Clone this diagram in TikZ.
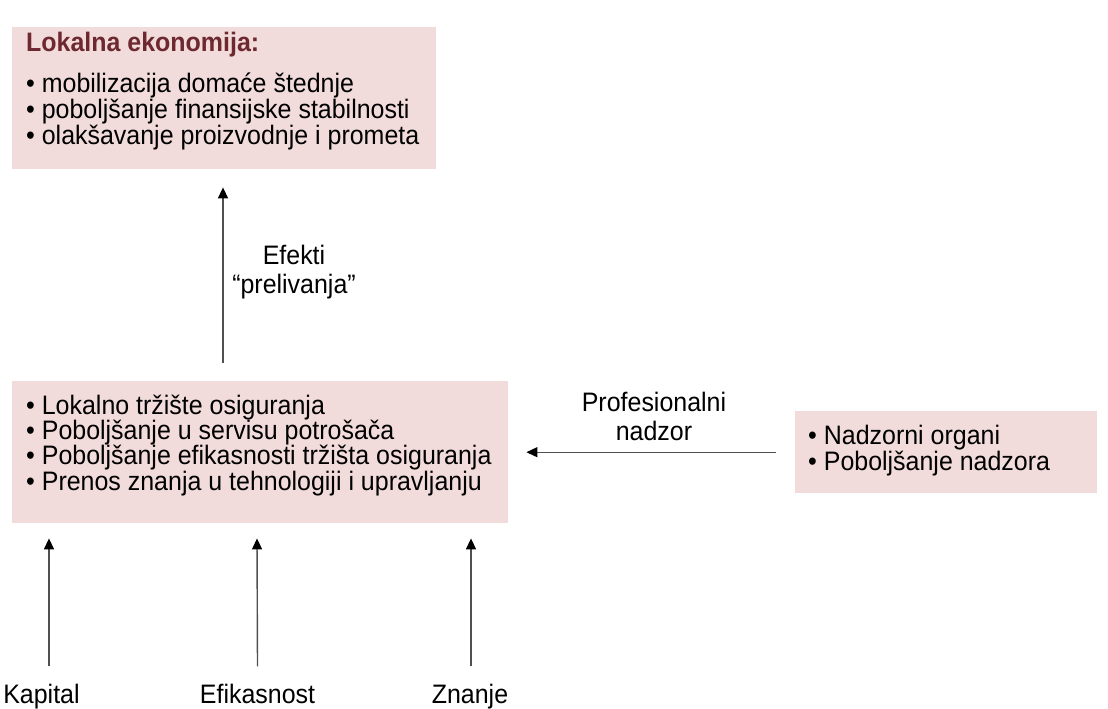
\documentclass[tikz,border=0pt]{standalone}
\usepackage{fontspec}
\setmainfont[FakeStretch=0.935]{Liberation Sans}
\usetikzlibrary{arrows.meta}
\definecolor{boxfill}{HTML}{F2DCDB}
\definecolor{titlered}{HTML}{6E2830}
\definecolor{linegray}{HTML}{505050}
\begin{document}
\begin{tikzpicture}[x=1pt,y=-1pt,
  box/.style={fill=boxfill, draw=none, anchor=north west, inner sep=0pt},
  txt/.style={anchor=base west, inner sep=0pt, align=left},
  lbl/.style={anchor=base, inner sep=0pt, align=center, font=\fontsize{26.7}{28.5}\selectfont},
  conn/.style={draw=linegray, line width=1.4pt, -{Triangle[width=10pt,length=11pt,color=black]}}]
\useasboundingbox[fill=white] (0,0) rectangle (1108,709);
% boxes
\node[box, minimum width=424pt, minimum height=142pt] (eco) at (12,27) {};
\node[box, minimum width=496pt, minimum height=142pt] (market) at (12,381) {};
\node[box, minimum width=302pt, minimum height=82pt] (super) at (795,411) {};
% box texts (base anchor of a multi-line node = last line's baseline)
\node[txt, font=\bfseries\fontsize{26.7}{26}\selectfont, text=titlered] (ecotitle) at (26,52) {Lokalna ekonomija:};
\node[txt, font=\fontsize{26.7}{26}\selectfont] (ecolist) at (26,144)
  {• mobilizacija domaće štednje\\ • poboljšanje finansijske stabilnosti\\ • olakšavanje proizvodnje i prometa};
\node[txt, font=\fontsize{26.7}{25.3}\selectfont] (marketlist) at (26,490)
  {• Lokalno tržište osiguranja\\ • Poboljšanje u servisu potrošača\\ • Poboljšanje efikasnosti tržišta osiguranja\\ • Prenos znanja u tehnologiji i upravljanju};
\node[txt, font=\fontsize{26.7}{26}\selectfont] (superlist) at (808,470)
  {• Nadzorni organi\\ • Poboljšanje nadzora};
% labels
\node[lbl] (efekti) at (294,293) {Efekti\\“prelivanja”};
\node[lbl, font=\fontsize{26.7}{29}\selectfont] (prof) at (654,440) {Profesionalni\\nadzor};
\node[lbl] (kapital) at (41.5,703) {Kapital};
\node[lbl] (efik) at (257.5,703) {Efikasnost};
\node[lbl] (znanje) at (470,703) {Znanje};
% connectors
\draw[conn] ([xshift=211pt,yshift=18pt]market.north west) -- ([xshift=211pt,yshift=-18pt]eco.south west);
\draw[conn] ([xshift=-19pt]super.west) -- ([xshift=18pt]super.west -| market.east);
\draw[conn] ([xshift=7.5pt,yshift=17pt]kapital.north) -- ([xshift=37pt,yshift=-15pt]market.south west);
\draw[conn] ([yshift=17pt]efik.north) -- ([xshift=245pt,yshift=-15pt]market.south west);
\draw[conn] ([xshift=1pt,yshift=17pt]znanje.north) -- ([xshift=459pt,yshift=-15pt]market.south west);
\end{tikzpicture}
\end{document}
